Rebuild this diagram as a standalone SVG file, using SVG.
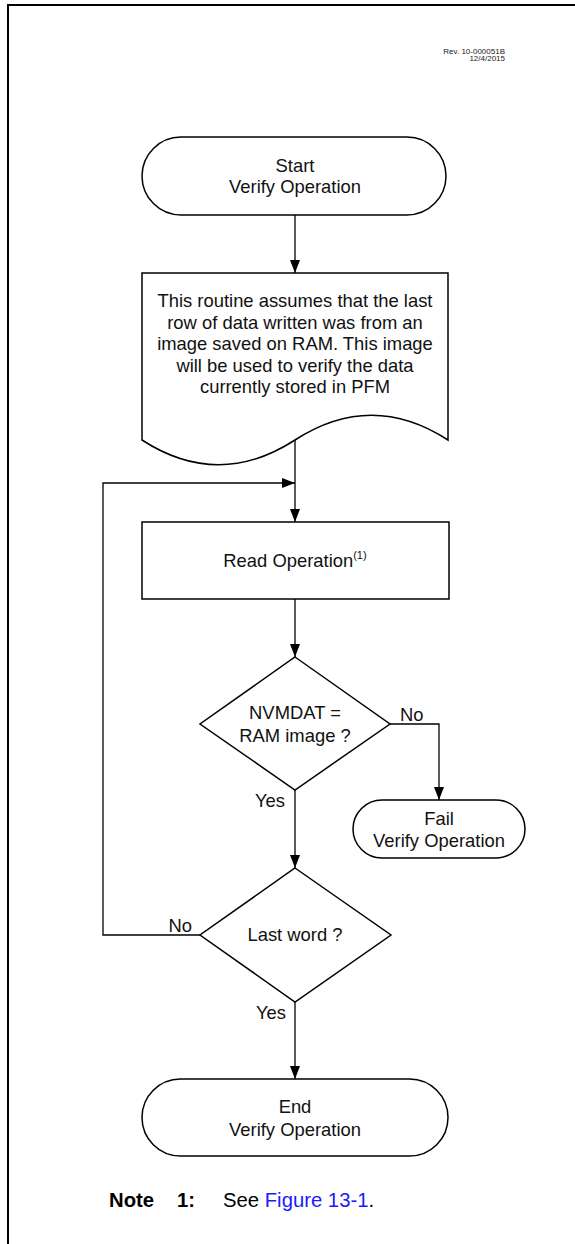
<svg xmlns="http://www.w3.org/2000/svg" width="575" height="1244" viewBox="0 0 575 1244">
<defs>
<marker id="ah" markerUnits="userSpaceOnUse" markerWidth="14" markerHeight="10" refX="13" refY="5" orient="auto">
<path d="M0,0 L13,5 L0,10 z" fill="#000"/>
</marker>
<style>
.shape{fill:#fff;stroke:#000;stroke-width:1.5}
.conn{fill:none;stroke:#000;stroke-width:1.3}
.t{font-family:"Liberation Sans",Arial,sans-serif;font-size:18.4px;fill:#111;text-anchor:middle}
.lbl{font-family:"Liberation Sans",Arial,sans-serif;font-size:18.4px;fill:#111}
.rev{font-family:"Liberation Sans",Arial,sans-serif;font-size:8px;fill:#222;text-anchor:end}
.note{font-family:"Liberation Sans",Arial,sans-serif;font-size:20.3px;fill:#000}
</style>
</defs>
<rect width="575" height="1244" fill="#fff"/>
<g id="frame">
<path d="M8,1244 L8,5 L575,5" fill="none" stroke="#000" stroke-width="2"/>
</g>
<g id="rev">
<text class="rev" x="505" y="54">Rev. 10-000051B</text>
<text class="rev" x="505" y="61">12/4/2015</text>
</g>
<g id="connectors">
<path class="conn" d="M295,215 L295,273" marker-end="url(#ah)"/>
<path class="conn" d="M295,440 L295,522" marker-end="url(#ah)"/>
<path class="conn" d="M200,935 L103,935 L103,483 L295,483" marker-end="url(#ah)"/>
<path class="conn" d="M295,599 L295,657" marker-end="url(#ah)"/>
<path class="conn" d="M390,724 L439,724 L439,800" marker-end="url(#ah)"/>
<path class="conn" d="M295,790 L295,868" marker-end="url(#ah)"/>
<path class="conn" d="M295,1002 L295,1079" marker-end="url(#ah)"/>
<text class="lbl" x="400" y="721">No</text>
<text class="lbl" x="285" y="807" text-anchor="end">Yes</text>
<text class="lbl" x="192" y="932" text-anchor="end">No</text>
<text class="lbl" x="286" y="1019" text-anchor="end">Yes</text>
</g>
<g id="start">
<rect class="shape" x="142" y="137" width="304" height="78" rx="39" ry="39"/>
<text class="t" x="295" y="172">Start</text>
<text class="t" x="295" y="193">Verify Operation</text>
</g>
<g id="doc">
<path class="shape" d="M142,273 L448,273 L448,440 C397,407 346,407 295,440 C244,473 193,473 142,440 Z"/>
<text class="t" x="295" y="307">This routine assumes that the last</text>
<text class="t" x="295" y="328.5">row of data written was from an</text>
<text class="t" x="295" y="350">image saved on RAM. This image</text>
<text class="t" x="295" y="371.5">will be used to verify the data</text>
<text class="t" x="295" y="393">currently stored in PFM</text>
</g>
<g id="read">
<rect class="shape" x="142" y="522" width="307" height="77"/>
<text class="t" x="295" y="567">Read Operation<tspan font-size="11" dy="-8">(1)</tspan></text>
</g>
<g id="d1">
<path class="shape" d="M295,657 L390,724 L295,790 L200,724 Z"/>
<text class="t" x="295" y="719">NVMDAT =</text>
<text class="t" x="295" y="742">RAM image ?</text>
</g>
<g id="fail">
<rect class="shape" x="353" y="800" width="172" height="58" rx="29" ry="29"/>
<text class="t" x="439" y="825">Fail</text>
<text class="t" x="439" y="847">Verify Operation</text>
</g>
<g id="d2">
<path class="shape" d="M295,868 L391,935 L295,1002 L200,935 Z"/>
<text class="t" x="295" y="941">Last word ?</text>
</g>
<g id="end">
<rect class="shape" x="142" y="1079" width="306" height="77" rx="38.5" ry="38.5"/>
<text class="t" x="295" y="1113">End</text>
<text class="t" x="295" y="1136">Verify Operation</text>
</g>
<g id="note">
<text class="note" y="1207"><tspan x="109" font-weight="bold">Note</tspan><tspan x="177" font-weight="bold">1:</tspan><tspan x="223">See </tspan><tspan fill="#1a1aff">Figure 13-1</tspan><tspan>.</tspan></text>
</g>
</svg>
